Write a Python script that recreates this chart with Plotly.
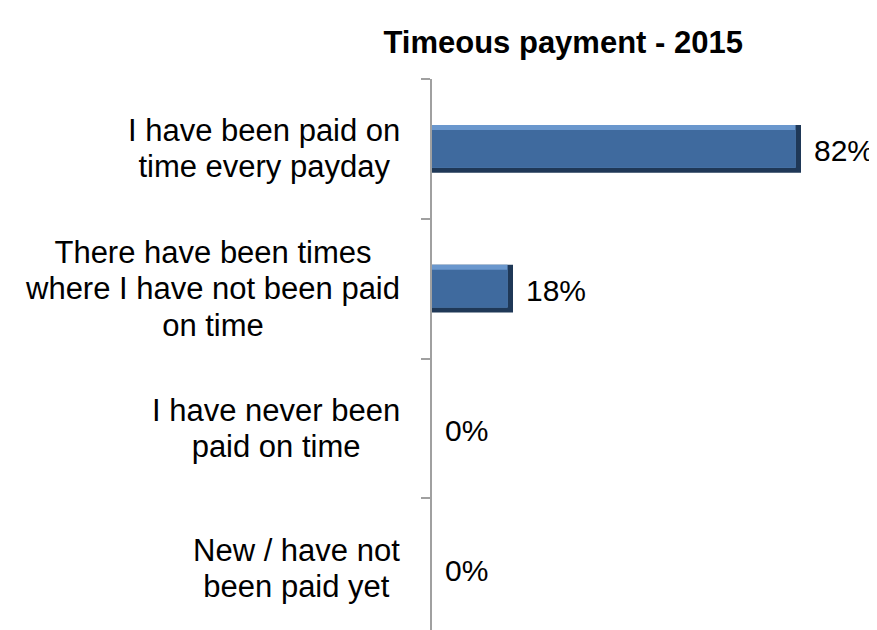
import plotly.graph_objects as go

categories = [
    "I have been paid on<br>time every payday",
    "There have been times<br>where I have not been paid<br>on time",
    "I have never been<br>paid on time",
    "New / have not<br>been paid yet",
]
values = [0.82, 0.18, 0.0, 0.0]
value_labels = ["82%", "18%", "0%", "0%"]
title_text = "Timeous payment - 2015"

FONT = "Liberation Sans, Arial, sans-serif"
INSET = 0.012  # bevel inset (style)
face_values = [max(v - INSET, 0) for v in values]


def sized(label, px):
    return "<br>".join(
        "<span style='font-size:%dpx'>%s</span>" % (px, part) for part in label.split("<br>")
    )


fig = go.Figure()
# dark outer shape (bottom & right bevel)
fig.add_trace(go.Bar(
    y=categories, x=values, orientation="h", width=0.34,
    marker=dict(color="#1F3857", line=dict(width=0)),
    hoverinfo="skip", showlegend=False,
))
# light top bevel
fig.add_trace(go.Bar(
    y=categories, x=face_values, orientation="h", width=0.305, offset=-0.17,
    marker=dict(color="#6A97CD", line=dict(width=0)),
    hoverinfo="skip", showlegend=False,
))
# face
fig.add_trace(go.Bar(
    y=categories, x=face_values, orientation="h", width=0.27, offset=-0.135,
    marker=dict(color="#3F6A9E", line=dict(width=0)),
    hoverinfo="skip", showlegend=False,
))

annotations = []
for c, v, lab in zip(categories, values, value_labels):
    annotations.append(dict(
        x=v, y=c, xref="x", yref="y", text=lab, showarrow=False,
        xanchor="left", yanchor="middle", xshift=11, yshift=-2,
        font=dict(family=FONT, size=30, color="#000000"),
    ))
    annotations.append(dict(
        x=-0.066, y=c, xref="paper", yref="y", text=sized(c, 31), showarrow=False,
        xanchor="right", yanchor="middle", align="center",
        font=dict(family=FONT, size=28, color="#000000"),
    ))

fig.update_layout(
    width=877, height=630,
    margin=dict(l=424, r=3, t=71, b=0),
    paper_bgcolor="white", plot_bgcolor="white",
    barmode="overlay",
    title=dict(text="<b>" + title_text + "</b>", x=0.691, xref="paper",
               y=1 - 34 / 630, yref="container", xanchor="right", yanchor="middle",
               font=dict(family=FONT, size=31, color="#000000")),
    xaxis=dict(range=[0, 1], visible=False, fixedrange=True),
    yaxis=dict(autorange="reversed", showticklabels=False, showgrid=False,
               showline=True, linecolor="#A0A0A0", linewidth=2,
               ticks="outside", tickson="boundaries", ticklen=9,
               tickcolor="#A0A0A0", tickwidth=2, zeroline=False),
    annotations=annotations,
    font=dict(family=FONT),
)

fig.write_html("out.html")
